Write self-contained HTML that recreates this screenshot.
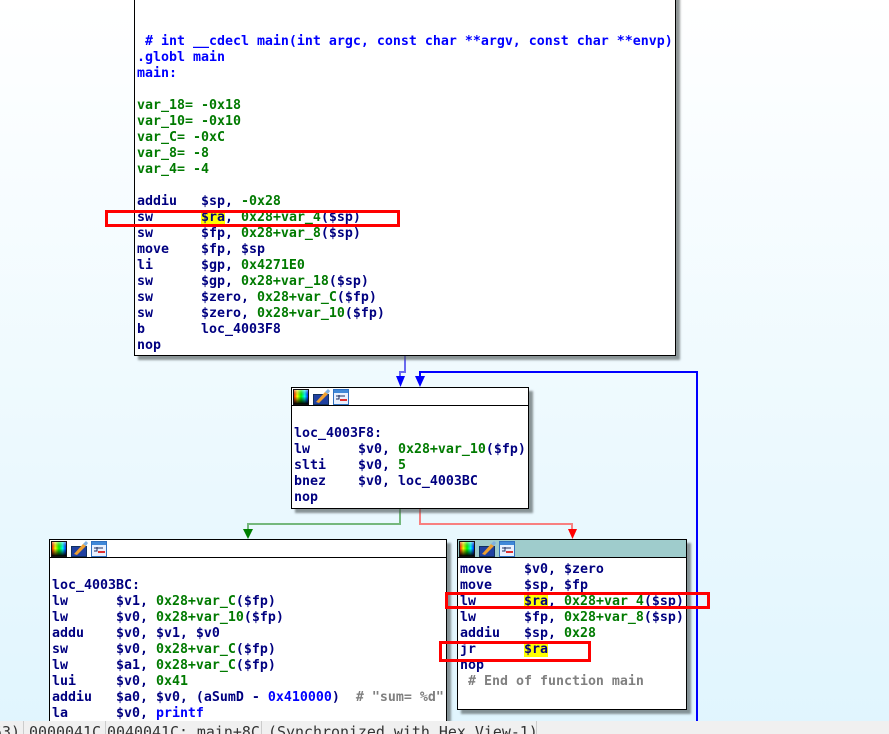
<!DOCTYPE html>
<html><head><meta charset="utf-8"><style>
html,body{margin:0;padding:0}
body{width:889px;height:734px;overflow:hidden;position:relative;background:linear-gradient(180deg,#ffffff 0,#e0f5fe 100%);font-family:"DejaVu Sans Mono",monospace}
.b{position:absolute;background:#fff;border:1.5px solid #000;box-sizing:border-box;box-shadow:4px 4px 2px rgba(70,80,80,.6)}
.h{position:absolute;left:0;right:0;top:0;height:17px;border-bottom:1.5px solid #000;box-sizing:content-box}
pre{position:absolute;margin:0;font:bold 13.29px/16px "DejaVu Sans Mono",monospace;color:#000080;white-space:pre}
i{font-style:normal;color:#007a00}
u{text-decoration:none;color:#0000ff}
s{text-decoration:none;background:#ffff00}
em{font-style:normal;color:#808080}
.r{position:absolute;border:3px solid #f00;box-sizing:border-box}
.ic{position:absolute}
#st{position:absolute;left:0;top:721px;width:889px;height:13px;background:#f0f0f0;overflow:hidden}
#st span{position:absolute;top:3px;font:14.95px/16px "DejaVu Sans Mono",monospace;color:#333;white-space:pre}
#st b{position:absolute;top:0;width:1px;height:13px;background:#ccc}
</style></head><body>

<svg width="889" height="734" style="position:absolute;left:0;top:0">
<polyline points="405,356 405,372 400,372 400,380" fill="none" stroke="#6a6af0" stroke-width="2"/>
<polygon points="396,376 405,376 400.5,387" fill="#0000ff"/>
<polyline points="697,722 697,372 420,372 420,380" fill="none" stroke="#0000ff" stroke-width="2"/>
<polygon points="415,376 425,376 420,387" fill="#0000ff"/>
<polyline points="400,508 400,524 248,524 248,532" fill="none" stroke="#74b87c" stroke-width="2"/>
<polygon points="243,529 253,529 248,539" fill="#008000"/>
<polyline points="420,508 420,524 572,524 572,532" fill="none" stroke="#f88080" stroke-width="2"/>
<polygon points="568,529 577,529 572.5,539" fill="#ff0000"/>
</svg>

<div class="b" style="left:134px;top:-10px;width:542px;height:366px"></div>
<pre style="left:137px;top:34px"><u> # int __cdecl main(int argc, const char **argv, const char **envp)
.globl main
main:</u>

<i>var_18= -0x18
var_10= -0x10
var_C= -0xC
var_8= -8
var_4= -4</i>

addiu   $sp, <i>-0x28</i>
sw      <s>$ra</s>, <i>0x28+var_4</i>($sp)
sw      $fp, <i>0x28+var_8</i>($sp)
move    $fp, $sp
li      $gp, <i>0x4271E0</i>
sw      $gp, <i>0x28+var_18</i>($sp)
sw      $zero, <i>0x28+var_C</i>($fp)
sw      $zero, <i>0x28+var_10</i>($fp)
b       loc_4003F8
nop</pre>

<div class="b" style="left:291px;top:387px;width:238px;height:122px"><div class="h"></div></div>
<pre style="left:294px;top:426px">loc_4003F8:
lw      $v0, <i>0x28+var_10</i>($fp)
slti    $v0, <i>5</i>
bnez    $v0, loc_4003BC
nop</pre>

<div class="b" style="left:49px;top:539px;width:398px;height:195px"><div class="h"></div></div>
<pre style="left:52px;top:578px">loc_4003BC:
lw      $v1, <i>0x28+var_C</i>($fp)
lw      $v0, <i>0x28+var_10</i>($fp)
addu    $v0, $v1, $v0
sw      $v0, <i>0x28+var_C</i>($fp)
lw      $a1, <i>0x28+var_C</i>($fp)
lui     $v0, <i>0x41</i>
addiu   $a0, $v0, (aSumD - <u>0x410000</u>)  <em># "sum= %d"</em>
la      $v0, <u>printf</u></pre>

<div class="b" style="left:457px;top:539px;width:230px;height:171px"><div class="h" style="background:#9fcccc"></div></div>
<pre style="left:460px;top:562px">move    $v0, $zero
move    $sp, $fp
lw      <s>$ra</s>, <i>0x28+var_4</i>($sp)
lw      $fp, <i>0x28+var_8</i>($sp)
addiu   $sp, <i>0x28</i>
jr      <s>$ra</s>
nop
 <em># End of function main</em></pre>

<svg width="0" height="0" style="position:absolute"><defs>
<linearGradient id="g1" x1="0" x2="1" y1="0" y2="0"><stop offset="0" stop-color="#f00"/><stop offset=".25" stop-color="#ff0"/><stop offset=".5" stop-color="#0f0"/><stop offset=".75" stop-color="#0ff"/><stop offset="1" stop-color="#00f"/></linearGradient>
<linearGradient id="g2" x1="0" x2="0" y1="0" y2="1"><stop offset="0" stop-color="#fff" stop-opacity=".5"/><stop offset=".45" stop-color="#000" stop-opacity="0"/><stop offset="1" stop-color="#000"/></linearGradient>
<g id="ico">
<rect x="0.5" y="0.5" width="15" height="15" fill="url(#g1)" stroke="#111"/><rect x="1" y="1" width="14" height="14" fill="url(#g2)"/>
<rect x="20.5" y="5.5" width="15" height="10" fill="#2040a0" stroke="#103060"/><polygon points="23,13 32,3 35,5 26,14" fill="#f0a030"/><polygon points="32,3 35,0 37,2 35,5" fill="#80b0e0"/>
<rect x="40.5" y="0.5" width="15" height="15" fill="#e8f0ff" stroke="#3070c0"/><rect x="41" y="1" width="14" height="3" fill="#4088d8"/><path d="M43 7h9M46 6v4h-3" stroke="#203060" fill="none"/><rect x="47" y="10" width="7" height="2" fill="#e03030"/>
</g></defs></svg>
<svg class="ic" style="left:293px;top:389px" width="58" height="17"><use href="#ico"/></svg>
<svg class="ic" style="left:51px;top:541px" width="58" height="17"><use href="#ico"/></svg>
<svg class="ic" style="left:459px;top:541px" width="58" height="17"><use href="#ico"/></svg>

<div class="r" style="left:105px;top:210px;width:295px;height:17px"></div>
<div class="r" style="left:445px;top:592px;width:265px;height:17px"></div>
<div class="r" style="left:439px;top:641px;width:152px;height:21px"></div>

<div id="st">
<span style="left:-7px">53)</span><b style="left:23px"></b>
<span style="left:29px">0000041C</span><b style="left:105px"></b>
<span style="left:107px">0040041C: main+8C</span><b style="left:261px"></b>
<span style="left:268px">(Synchronized with Hex View-1)</span><b style="left:536px"></b>
</div>
</body></html>
